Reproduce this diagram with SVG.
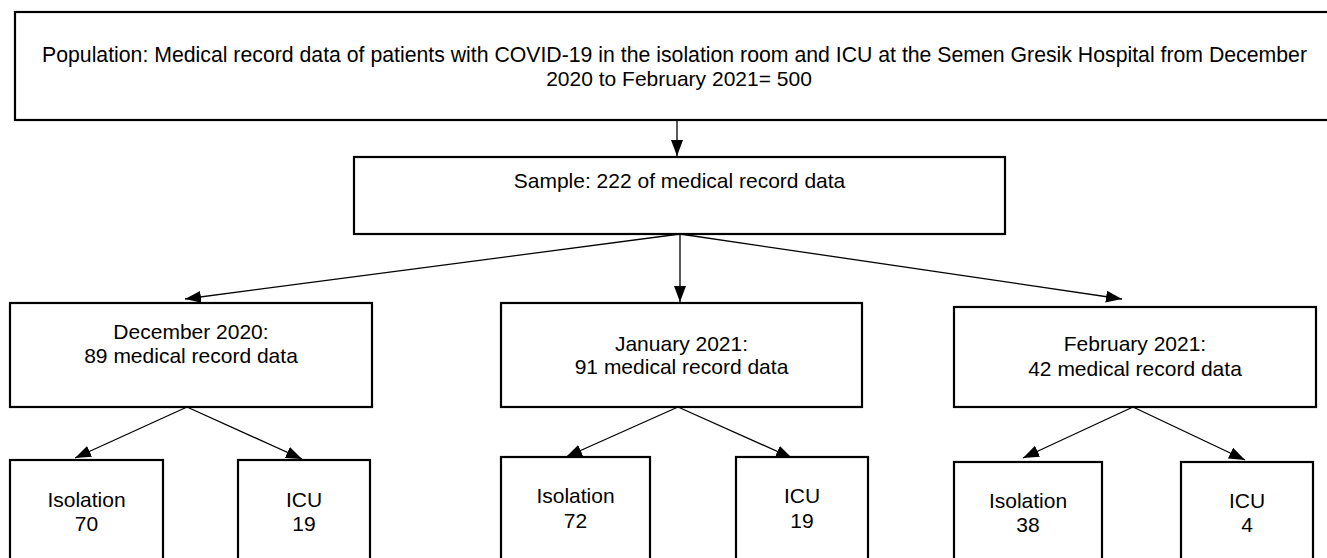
<svg xmlns="http://www.w3.org/2000/svg" width="1327" height="558" viewBox="0 0 1327 558">
<style>
.box{fill:#fff;stroke:#000;stroke-width:2.2}
.t{font-family:"Liberation Sans",Arial,sans-serif;font-size:21px;fill:#000;text-anchor:middle}
.c{stroke:#000;stroke-width:1.3;fill:none;marker-end:url(#ah)}
</style>
<defs>
<marker id="ah" markerUnits="userSpaceOnUse" markerWidth="17" markerHeight="13" refX="16" refY="6" orient="auto">
<path d="M0,0 L16,6 L0,12 z" fill="#000"/>
</marker>
</defs>
<rect width="1327" height="558" fill="#fff"/>
<g id="connectors">
<line class="c" x1="677" y1="121" x2="677" y2="156"/>
<line class="c" x1="680" y1="234" x2="185" y2="299"/>
<line class="c" x1="680" y1="234" x2="680" y2="302"/>
<line class="c" x1="680" y1="234" x2="1122" y2="299"/>
<line class="c" x1="187" y1="407" x2="75" y2="458"/>
<line class="c" x1="187" y1="407" x2="302" y2="459"/>
<line class="c" x1="678" y1="407" x2="566" y2="457"/>
<line class="c" x1="678" y1="407" x2="792" y2="458"/>
<line class="c" x1="1133" y1="407" x2="1023" y2="458"/>
<line class="c" x1="1133" y1="407" x2="1245" y2="460"/>
</g>
<g id="population">
<rect class="box" x="15" y="12" width="1330" height="108"/>
<text class="t" x="42" y="62" style="text-anchor:start;font-size:21.25px">Population: Medical record data of patients with COVID-19 in the isolation room and ICU at the Semen Gresik Hospital from December</text>
<text class="t" x="679" y="86">2020 to February 2021= 500</text>
</g>
<g id="sample">
<rect class="box" x="354" y="157" width="651" height="77"/>
<text class="t" x="679.5" y="188">Sample: 222 of medical record data</text>
</g>
<g id="december">
<rect class="box" x="10" y="303" width="362" height="104"/>
<text class="t" x="191" y="339">December 2020:</text>
<text class="t" x="191" y="363">89 medical record data</text>
</g>
<g id="january">
<rect class="box" x="501" y="303" width="361" height="104"/>
<text class="t" x="681.5" y="351">January 2021:</text>
<text class="t" x="681.5" y="374">91 medical record data</text>
</g>
<g id="february">
<rect class="box" x="954" y="307" width="362" height="100"/>
<text class="t" x="1135" y="351">February 2021:</text>
<text class="t" x="1135" y="376">42 medical record data</text>
</g>
<g id="dec-isolation">
<rect class="box" x="10" y="460" width="153" height="110"/>
<text class="t" x="86.5" y="507">Isolation</text>
<text class="t" x="86.5" y="531">70</text>
</g>
<g id="dec-icu">
<rect class="box" x="238" y="460" width="132" height="110"/>
<text class="t" x="304" y="507">ICU</text>
<text class="t" x="304" y="531">19</text>
</g>
<g id="jan-isolation">
<rect class="box" x="501" y="457" width="149" height="113"/>
<text class="t" x="575.5" y="503">Isolation</text>
<text class="t" x="575.5" y="528">72</text>
</g>
<g id="jan-icu">
<rect class="box" x="736" y="457" width="132" height="113"/>
<text class="t" x="802" y="503">ICU</text>
<text class="t" x="802" y="528">19</text>
</g>
<g id="feb-isolation">
<rect class="box" x="954" y="462" width="148" height="108"/>
<text class="t" x="1028" y="508">Isolation</text>
<text class="t" x="1028" y="532">38</text>
</g>
<g id="feb-icu">
<rect class="box" x="1181" y="462" width="132" height="108"/>
<text class="t" x="1247" y="508">ICU</text>
<text class="t" x="1247" y="532">4</text>
</g>
</svg>
